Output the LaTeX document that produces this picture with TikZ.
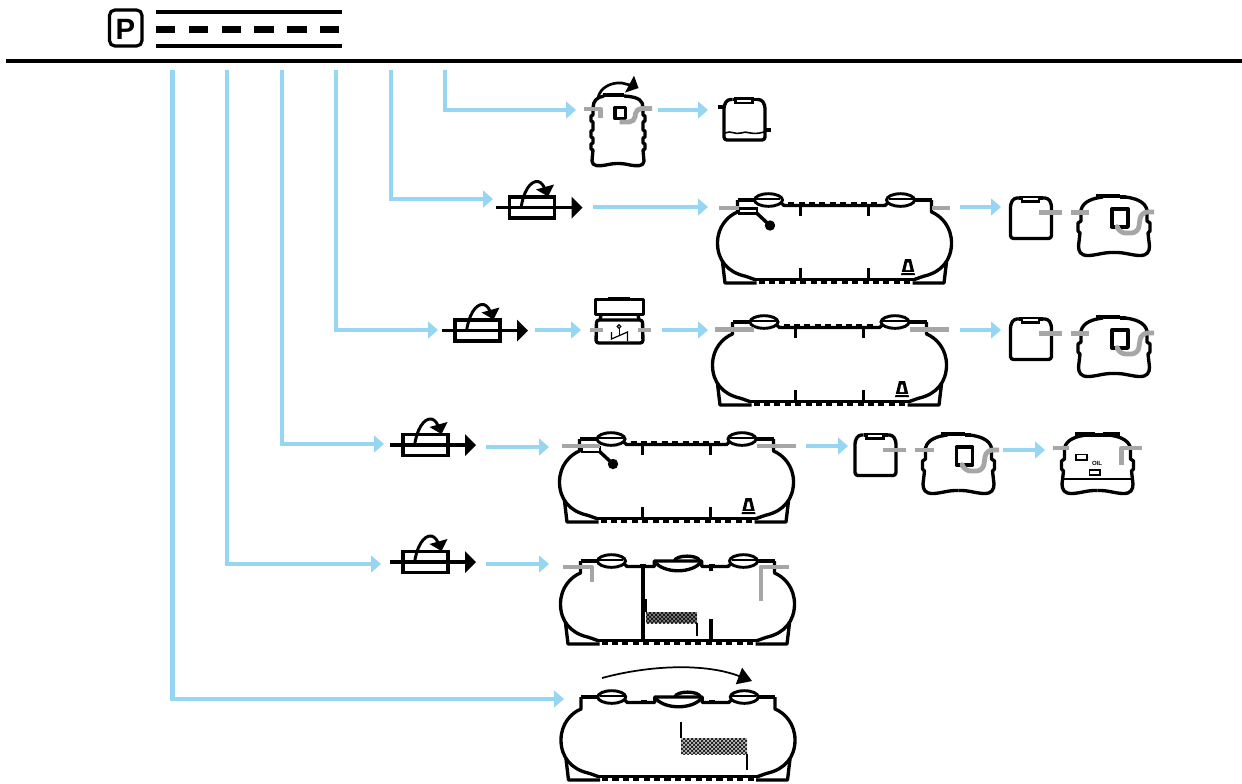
\documentclass[tikz,border=0pt]{standalone}
\usepackage{xcolor}
\usepackage{fontspec}
\setsansfont{Liberation Sans}
\usetikzlibrary{arrows.meta, patterns}
\definecolor{flowblue}{HTML}{97D6F3}
\definecolor{pipegray}{HTML}{A6A6A6}
\tikzset{
  tk/.style={line width=2.5pt, line join=round},
  thn/.style={line width=0.9pt},
  pipe/.style={pipegray, line width=3.6pt, line join=round},
  flow/.style={flowblue, line width=3.2pt, -{Triangle[length=7.5pt, width=12.5pt]}},
  teeth/.style={line width=2.6pt, dash pattern=on 4.6pt off 3.2pt},
  tankbody/.pic={
    \foreach \s in {-1,1} {
      \begin{scope}[xscale=\s]
        \draw[tk] (-97,0) -- (-80,0);
        \draw[tk] (-97,0) -- (-97,12) .. controls (-107,16) and (-117,27) .. (-117,43) .. controls (-117,60) and (-107,72) .. (-90,76) .. controls (-86,77) and (-82,79) .. (-78,80);
        \draw[tk] (-112,62) -- (-109.5,83) -- (-78,83);
      \end{scope}
    }
    \draw[tk] (-80,79.5) -- (80,79.5);
    \draw[teeth] (-76,82) -- (76,82);
  },
  dome/.pic={
    \draw[line width=2.2pt, fill=white] (0,0) ellipse (14 and 6.3);
    \draw[line width=1.1pt] (-12,-1) -- (12,-1);
  },
  tanktwo/.pic={
    \pic {tankbody};
    \draw[tk] (-54,2) -- (-50,5.5) -- (50,5.5) -- (54,2);
    \draw[teeth] (-46,3.5) -- (46,3.5);
    \foreach \s in {-34,34} {
      \draw[tk] (\s,5) -- (\s,16);
      \draw[tk] (\s,68) -- (\s,80);
    }
    \pic at (-65.5,0) {dome};
    \pic at (65.5,0) {dome};
  },
  tankthree/.pic={
    \pic {tankbody};
    \draw[tk] (-54,2) -- (-50,5.5) -- (-23,5.5) -- (-23,0) -- (24,0) -- (24,5.5) -- (50,5.5) -- (54,2);
    \draw[tk] (-23,0) .. controls (-15,13) and (16,13) .. (24,0);
    \draw[tk] (-3,0) .. controls (-2,-6.5) and (21,-6.5) .. (22,0);
    \fill (-37,2.5) rectangle (-31,7);
    \fill (31,2.5) rectangle (37,7);
    \pic at (-65.5,0) {dome};
    \pic at (65.5,0) {dome};
  },
  float/.pic={
    \fill[white] (0,0) rectangle (18,5);
    \draw[line width=1.9pt] (0,0) rectangle (18,5);
    \draw[line width=2.6pt] (17,4) -- (31,17);
    \fill (31,17) circle (5.2);
  },
  cone/.pic={
    \fill (-7,8) -- (-3,-8) -- (3,-8) -- (7,8) -- cycle;
    \fill[white] (-2.4,3) -- (-0.8,-4.5) -- (0.8,-4.5) -- (2.4,3) -- cycle;
    \fill[white] (-7,5) rectangle (7,5.8);
  },
  gate/.pic={
    \draw[line width=2.4pt] (-22.5,-10.5) rectangle (22.5,10.5);
    \draw[line width=2.4pt] (-36,0) -- (42,0);
    \fill (39.5,-11) -- (50.5,0) -- (39.5,11) -- cycle;
    \draw[line width=2.2pt] (-11,1) .. controls (-9,-15) and (-2,-27) .. (6,-26) .. controls (10,-25) and (12,-21) .. (13,-18);
    \fill (4,-18) -- (22,-23) -- (16,-11) -- cycle;
  },
  canbox/.pic={
    \draw[tk, rounded corners=2.2pt] (-12,1) -- (-17,1) -- (-20.5,7) -- (-20.5,41.5) -- (20.5,41.5) -- (20.5,7) -- (17,1) -- (12,1);
    \draw[tk] (-12,1) -- (12,1);
    \draw[line width=1.7pt, fill=white] (-9,0) rectangle (8,4.5);
  },
  servetank/.pic={
    \foreach \s in {-1,1} {
      \begin{scope}[xscale=\s]
        \draw[tk] (-11,3) .. controls (-20,4) and (-31,7) .. (-33,16) -- (-33,27) -- (-36,29) -- (-36,37) -- (-34,39) -- (-35.5,52) .. controls (-35.5,58) and (-33,61.5) .. (-26,61.5) .. controls (-18,61.5) and (-10,58) .. (0,58.5);
      \end{scope}
    }
  },
  cupboard/.pic={
    \pic {servetank};
    \draw[line width=3.6pt] (-18,2) -- (6,2);
    \draw[tk] (6,3) -- (12,3);
    \draw[tk] (-2,15) rectangle (14,33);
  }
}
\begin{document}
\begin{tikzpicture}[x=0.75pt, y=-0.75pt]
  \useasboundingbox (0,0) rectangle (1242,783);
  \fill[white] (0,0) rectangle (1242,783);

  \draw[line width=2.4pt, rounded corners=4pt] (109.5,10) rectangle (142,46);
  \node[font=\sffamily\bfseries\fontsize{22}{22}\selectfont, inner sep=0pt] (parking) at (125.5,29) {P};
  \draw[line width=2.4pt] (156,12) -- (342,12);
  \draw[line width=2.4pt] (156,46) -- (342,46);
  \draw[line width=4.6pt, dash pattern=on 14.6pt off 10pt] (156,29.5) -- (342,29.5);
  \draw[line width=2.7pt] (6,61) -- (1242,61);

  \foreach \n/\px in {a/445,b/391,c/336.3,d/281.7,e/227,f/172.6} {
    \coordinate (top\n) at (\px,70);
  }
  \coordinate (slimin) at (576,110);
  \coordinate (gateb) at (493,199);
  \coordinate (gatec) at (438,330);
  \coordinate (gated) at (384,444);
  \coordinate (gatee) at (381,564);
  \coordinate (tankf) at (564,699);
  \draw[flow] (topa) |- (slimin);
  \draw[flow] (topb) |- (gateb);
  \draw[flow] (topc) |- (gatec);
  \draw[flow] (topd) |- (gated);
  \draw[flow] (tope) |- (gatee);
  \draw[flow] (topf) |- (tankf);

  \foreach \xa/\xb/\y [count=\i] in {658/708/110, 593/708/207, 960/1001/207, 535/581/330, 662/708/330, 960/1001/330, 486/549/447, 806/848/446, 1003/1045/450, 486/549/564} {
    \coordinate (fa\i) at (\xa,\y);
    \coordinate (fb\i) at (\xb,\y);
    \draw[flow] (fa\i) -- (fb\i);
  }

  % slim tank
  \draw[tk] (604,96) .. controls (597,97) and (593,101) .. (593,108) -- (593,115) -- (591,116) -- (591,121) -- (593,122) -- (593,130) -- (591,131) -- (591,137) -- (593,138) -- (593,143) -- (591,144) -- (591,149) -- (593,150) -- (592,161) .. controls (592,167) and (600,166) .. (606,165) .. controls (614,163) and (622,163) .. (630,165) .. controls (636,166) and (644,167) .. (644,161) -- (643,150) -- (645,149) -- (645,144) -- (643,143) -- (643,138) -- (645,137) -- (645,131) -- (643,130) -- (643,122) -- (645,121) -- (645,116) -- (643,115) -- (643,108) .. controls (643,101) and (640,97) .. (624,96);
  \draw[line width=3.2pt] (603,95) -- (624,95);
  \draw[tk] (615,107.5) rectangle (625.5,118.5);
  \draw[pipe] (584,109) -- (600.5,109) -- (600.5,118);
  \draw[pipe, rounded corners=4pt] (652,108.5) -- (636,108.5) -- (634.5,122) -- (619.5,122);
  \draw[line width=2pt] (598,98) .. controls (600,87) and (612,82) .. (622,83) -- (630,85);
  \fill (634,75.7) -- (638.5,88) -- (625,92.5) -- cycle;

  \pic at (744.5,98.5) {canbox};
  \draw[line width=3pt] (718,106.5) -- (725,106.5);
  \draw[line width=3pt] (764,130) -- (771,130);
  \draw[line width=1.2pt] (725,133) .. controls (731,130) and (735,135) .. (741,133) .. controls (747,130) and (751,136) .. (764,132);

  % second row
  \pic at (532,207.5) {gate};
  \pic[xscale=1.008] at (834.5,200) {tanktwo};
  \pic at (739,208.5) {float};
  \pic at (908,267) {cone};
  \draw[pipe] (719,208) -- (739,208);
  \draw[pipe] (932,208) -- (950,208);
  \pic at (1031,197) {canbox};
  \pic at (1114,194) {cupboard};
  \draw[pipe] (1039,212.5) -- (1062,212.5);
  \draw[pipe] (1071,212.5) -- (1089,212.5);
  \draw[pipe, rounded corners=5pt] (1154,212) -- (1141,212) -- (1138,233) -- (1119,233) -- (1118,229.5);

  % third row
  \pic at (477.5,330.5) {gate};
  \draw[tk] (595.5,299.5) rectangle (643.5,314.5);
  \draw[line width=3pt] (608,298.5) -- (630,298.5);
  \draw[tk] (601,315) -- (600,320);
  \draw[tk] (638,315) -- (639,320);
  \draw[tk, rounded corners=2pt] (596.5,320) -- (642.5,320) -- (643,343) -- (596,343) -- cycle;
  \draw[pipe] (590,330) -- (603,330);
  \draw[pipe] (638,330) -- (651,330);
  \draw[line width=0.9pt] (611.5,332) -- (611.5,339) -- (627.5,332) -- (627.5,341);
  \draw[line width=0.7pt] (619,328) -- (619,336);
  \draw[line width=0.7pt, fill=pipegray] (619,326.5) circle (1.9);
  \pic at (829.5,322) {tanktwo};
  \pic at (902,389) {cone};
  \draw[pipe] (715,329.5) -- (754,329.5);
  \draw[pipe] (910,329.5) -- (949,329.5);
  \pic at (1031,318) {canbox};
  \pic at (1114,315) {cupboard};
  \draw[pipe] (1039,333.5) -- (1062,333.5);
  \draw[pipe] (1071,333.5) -- (1089,333.5);
  \draw[pipe, rounded corners=5pt] (1154,333) -- (1141,333) -- (1138,354) -- (1119,354) -- (1118,350.5);

  % fourth row
  \pic at (425.5,445) {gate};
  \pic at (676.5,439) {tanktwo};
  \pic at (582,447) {float};
  \pic at (748.5,506) {cone};
  \draw[pipe] (562,446) -- (600,446);
  \draw[pipe] (757,446) -- (796,446);
  \pic at (875.5,434) {canbox};
  \pic at (958.5,432) {cupboard};
  \draw[pipe] (883,450) -- (906,450);
  \draw[pipe] (915,450) -- (934,450);
  \draw[pipe, rounded corners=5pt] (999,450) -- (986,450) -- (983,471) -- (964,471) -- (963,467.5);
  \pic at (1097.5,432) {servetank};
  \draw[line width=3.6pt] (1075,434.5) -- (1095,434.5);
  \draw[line width=3.6pt] (1103,434.5) -- (1120,434.5);
  \draw[tk] (1095,435) -- (1103,435);
  \draw[thn] (1063,479) -- (1132,479);
  \draw[line width=0.8pt] (1076,454.5) rectangle (1087,460);
  \draw[line width=0.8pt] (1089.5,470) rectangle (1100,475);
  \node[font=\sffamily\bfseries\fontsize{4.5}{5}\selectfont, inner sep=0pt] (oil) at (1097,463.5) {OIL};
  \draw[pipe] (1053,448) -- (1069,448);
  \draw[pipe] (1142,448) -- (1121.5,448) -- (1121.5,465);

  % fifth row
  \pic at (425.5,562) {gate};
  \pic[xscale=1.008] at (677.5,561) {tankthree};
  \draw[tk] (643,566) -- (643,642);
  \draw[tk] (711,566) -- (711,571);
  \draw[tk] (711,619) -- (711,642);
  \fill[black!50] (646,612) rectangle (697,623);
  \fill[pattern=crosshatch, pattern color=black] (646,612) rectangle (697,623);
  \draw[line width=0.8pt] (646,599) -- (646,612);
  \draw[line width=0.8pt] (697,623) -- (697,636);
  \draw[pipe] (563,567) -- (592,567) -- (592,582);
  \draw[pipe] (789,567) -- (761,567) -- (761,601);

  % sixth row
  \pic[xscale=1.012] at (678,697) {tankthree};
  \fill[black!25] (681,738) rectangle (747,754);
  \fill[pattern=crosshatch, pattern color=black] (681,738) rectangle (747,754);
  \draw[line width=0.9pt] (681,722) -- (681,738);
  \draw[line width=0.9pt] (747,754) -- (747,770);
  \coordinate (bendin) at (602,678);
  \coordinate (bendout) at (752,681);
  \draw[line width=1.3pt, -{Triangle[length=10.5pt, width=13pt]}] (bendin) .. controls (650,665) and (705,663) .. (bendout);
\end{tikzpicture}
\end{document}
